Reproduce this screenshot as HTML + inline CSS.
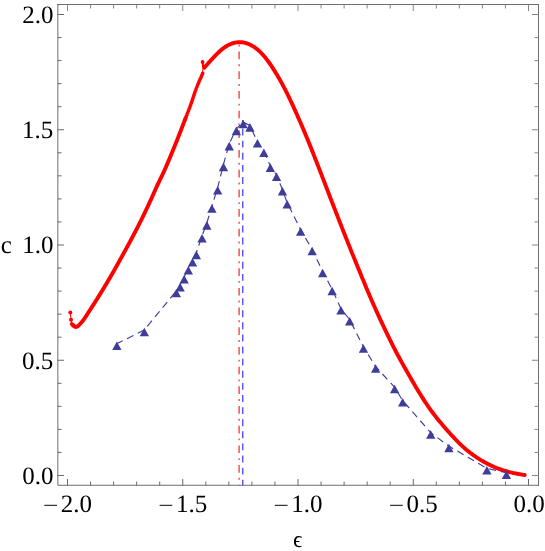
<!DOCTYPE html>
<html><head><meta charset="utf-8"><title>plot</title>
<style>html,body{margin:0;padding:0;background:#fff;}body{width:545px;height:551px;overflow:hidden;font-family:"Liberation Serif",serif;}svg{display:block;will-change:transform;}text{text-rendering:geometricPrecision;}</style>
</head><body>
<svg width="545" height="551" viewBox="0 0 545 551">
<rect x="0" y="0" width="545" height="551" fill="#fff"/>
<line x1="242.75" y1="119.9" x2="242.75" y2="485.5" stroke="#4444ff" stroke-width="1.3" stroke-dasharray="6.9 5.21" stroke-dashoffset="3.4"/>
<line x1="239.1" y1="42" x2="239.1" y2="485.5" stroke="#ff2222" stroke-width="1.2" stroke-dasharray="7.7 5.04 1.9 5.05" stroke-dashoffset="10.09"/>
<path d="M73.60 325.30L74.01 325.98L74.64 326.56L75.39 326.92L76.19 326.98L76.97 326.72L77.68 326.27L78.32 325.76L78.91 325.20L79.48 324.62L80.03 324.03L80.59 323.43L81.13 322.82L81.67 322.20L82.19 321.58L82.69 320.94L83.19 320.29L83.68 319.64L84.15 318.98L84.62 318.31L85.08 317.64L85.54 316.96L85.99 316.28L86.43 315.59L86.87 314.91L87.31 314.22L87.75 313.53L88.18 312.83L88.62 312.14L89.05 311.45L89.59 310.63L90.12 309.82L90.65 309.00L91.18 308.18L91.71 307.36L92.24 306.54L92.77 305.72L93.30 304.91L93.82 304.09L94.35 303.27L94.87 302.45L95.39 301.63L95.91 300.81L96.42 300.00L96.94 299.18L97.45 298.36L97.96 297.54L98.46 296.72L98.97 295.90L99.47 295.08L99.98 294.27L100.48 293.45L100.98 292.63L101.48 291.81L101.98 290.99L102.48 290.17L102.98 289.36L103.47 288.54L103.97 287.72L104.46 286.90L104.96 286.08L105.45 285.26L105.95 284.45L106.44 283.63L106.93 282.81L107.42 281.99L107.91 281.17L108.39 280.35L108.88 279.54L109.36 278.72L109.84 277.90L110.32 277.08L110.80 276.26L111.27 275.44L111.74 274.63L112.21 273.81L112.68 272.99L113.15 272.17L113.61 271.35L114.08 270.53L114.54 269.71L115.00 268.90L115.45 268.08L115.91 267.26L116.37 266.44L116.82 265.62L117.28 264.80L117.74 263.99L118.19 263.17L118.65 262.35L119.10 261.53L119.56 260.71L120.01 259.89L120.47 259.08L120.92 258.26L121.37 257.44L121.82 256.62L122.28 255.80L122.73 254.98L123.18 254.17L123.63 253.35L124.07 252.53L124.52 251.71L124.97 250.89L125.42 250.07L125.87 249.25L126.31 248.44L126.76 247.62L127.21 246.80L127.65 245.98L128.10 245.16L128.54 244.34L128.99 243.53L129.43 242.71L129.87 241.89L130.31 241.07L130.75 240.25L131.19 239.43L131.63 238.62L132.06 237.80L132.50 236.98L132.93 236.16L133.36 235.34L133.79 234.52L134.22 233.71L134.65 232.89L135.07 232.07L135.50 231.25L135.92 230.43L136.35 229.61L136.77 228.79L137.19 227.98L137.61 227.16L138.03 226.34L138.45 225.52L138.87 224.70L139.29 223.88L139.70 223.07L140.11 222.25L140.52 221.43L140.93 220.61L141.34 219.79L141.74 218.97L142.15 218.16L142.55 217.34L142.94 216.52L143.34 215.70L143.73 214.88L144.13 214.06L144.52 213.25L144.91 212.43L145.30 211.61L145.69 210.79L146.07 209.97L146.46 209.15L146.85 208.34L147.23 207.52L147.61 206.70L148.00 205.88L148.38 205.06L148.76 204.24L149.14 203.42L149.52 202.61L149.89 201.79L150.27 200.97L150.65 200.15L151.02 199.33L151.39 198.51L151.76 197.70L152.13 196.88L152.50 196.06L152.87 195.24L153.23 194.42L153.60 193.60L153.96 192.79L154.33 191.97L154.69 191.15L155.06 190.33L155.42 189.51L155.79 188.69L156.17 187.88L156.54 187.06L156.92 186.24L157.30 185.42L157.68 184.60L158.07 183.78L158.46 182.96L158.85 182.15L159.24 181.33L159.63 180.51L160.03 179.69L160.42 178.87L160.82 178.05L161.21 177.24L161.61 176.42L162.00 175.60L162.39 174.78L162.77 173.96L163.16 173.14L163.54 172.33L163.92 171.51L164.29 170.69L164.66 169.87L165.03 169.05L165.39 168.23L165.75 167.42L166.11 166.60L166.47 165.78L166.82 164.96L167.17 164.14L167.52 163.32L167.87 162.51L168.21 161.69L168.56 160.87L168.90 160.05L169.24 159.23L169.59 158.41L169.93 157.59L170.27 156.78L170.61 155.96L170.95 155.14L171.29 154.32L171.63 153.50L171.97 152.68L172.31 151.87L172.64 151.05L172.98 150.23L173.31 149.41L173.65 148.59L173.98 147.77L174.32 146.96L174.65 146.14L174.98 145.32L175.31 144.50L175.64 143.68L175.97 142.86L176.30 142.05L176.63 141.23L176.96 140.41L177.28 139.59L177.61 138.77L177.94 137.95L178.26 137.13L178.58 136.32L178.91 135.50L179.23 134.68L179.55 133.86L179.87 133.04L180.18 132.22L180.50 131.41L180.82 130.59L181.13 129.77L181.44 128.95L181.76 128.13L182.07 127.31L182.38 126.50L182.69 125.68L183.00 124.86L183.31 124.04L183.62 123.22L183.94 122.40L184.25 121.59L184.57 120.77L184.88 119.95L185.20 119.13L185.52 118.31" fill="none" stroke="#ff0000" stroke-width="3.9" stroke-linecap="round" stroke-linejoin="round"/>
<path d="M202.70 73.30L202.36 74.12L202.02 74.94L201.66 75.76L201.30 76.57L200.93 77.39L200.56 78.21L200.18 79.03L199.81 79.85L199.45 80.67L199.09 81.48L198.74 82.30L198.40 83.12L198.06 83.94L197.73 84.76L197.41 85.58L197.09 86.39L196.78 87.21L196.47 88.03L196.17 88.85L195.87 89.67L195.58 90.49L195.29 91.30L195.00 92.12L194.72 92.94L194.44 93.76L194.16 94.58L193.89 95.40L193.61 96.22L193.34 97.03L193.07 97.85L192.80 98.67L192.52 99.49L192.25 100.31L191.97 101.13L191.69 101.94L191.40 102.76L191.12 103.58L190.82 104.40L190.53 105.22L190.23 106.04L189.93 106.85L189.62 107.67L189.32 108.49L189.00 109.31L188.69 110.13L188.38 110.95L188.06 111.76L187.75 112.58L187.43 113.40L187.11 114.22L186.79 115.04L186.47 115.86L186.15 116.67L185.83 117.49L185.52 118.31L185.20 119.13L184.88 119.95" fill="none" stroke="#ff0000" stroke-width="3.75" stroke-linecap="round" stroke-linejoin="round" stroke-dasharray="0 2.1"/>
<path d="M204.20 67.73L205.00 67.01L205.81 66.04L206.61 65.10L207.41 64.19L208.22 63.28L209.02 62.39L209.82 61.51L210.63 60.63L211.43 59.76L212.23 58.89L213.04 58.02L213.84 57.16L214.64 56.31L215.45 55.47L216.25 54.63L217.05 53.82L217.86 53.02L218.66 52.24L219.46 51.49L220.27 50.76L221.07 50.06L221.87 49.39L222.67 48.75L223.48 48.14L224.28 47.56L225.08 47.01L225.89 46.49L226.69 46.01L227.49 45.55L228.30 45.12L229.10 44.72L229.90 44.35L230.71 44.01L231.51 43.70L232.31 43.42L233.12 43.16L233.92 42.94L234.72 42.74L235.53 42.57L236.33 42.43L237.13 42.32L237.94 42.24L238.74 42.19L239.54 42.17L240.35 42.18L241.15 42.22L241.95 42.30L242.76 42.40L243.56 42.53L244.36 42.69L245.17 42.89L245.97 43.11L246.77 43.36L247.58 43.64L248.38 43.95L249.18 44.29L249.99 44.65L250.79 45.05L251.59 45.47L252.40 45.93L253.20 46.41L254.00 46.92L254.81 47.47L255.61 48.05L256.41 48.66L257.22 49.30L258.02 49.98L258.82 50.69L259.62 51.43L260.43 52.21L261.23 53.02L262.03 53.87L262.84 54.74L263.64 55.65L264.44 56.59L265.25 57.56L266.05 58.56L266.85 59.59L267.66 60.65L268.46 61.74L269.26 62.86L270.07 64.00L270.87 65.17L271.67 66.37L272.48 67.58L273.28 68.82L274.08 70.08L274.89 71.36L275.69 72.66L276.49 73.98L277.30 75.32L278.10 76.68L278.90 78.07L279.71 79.47L280.51 80.90L281.31 82.35L282.12 83.83L282.92 85.32L283.72 86.84L284.53 88.38L285.33 89.94L286.13 91.53L286.94 93.13L287.74 94.76L288.54 96.40L289.35 98.07L290.15 99.75L290.95 101.46L291.76 103.17L292.56 104.90L293.36 106.65L294.16 108.40L294.97 110.17L295.77 111.95L296.57 113.73L297.38 115.53L298.18 117.34L298.98 119.16L299.79 121.00L300.59 122.84L301.39 124.70L302.20 126.58L303.00 128.47L303.80 130.37L304.61 132.29L305.41 134.22L306.21 136.17L307.02 138.12L307.82 140.09L308.62 142.07L309.43 144.05L310.23 146.05L311.03 148.05L311.84 150.06L312.64 152.08L313.44 154.11L314.25 156.14L315.05 158.17L315.85 160.21L316.66 162.26L317.46 164.31L318.26 166.37L319.07 168.44L319.87 170.51L320.67 172.58L321.48 174.66L322.28 176.75L323.08 178.83L323.89 180.92L324.69 183.02L325.49 185.11L326.30 187.21L327.10 189.30L327.90 191.40L328.71 193.50L329.51 195.59L330.31 197.68L331.11 199.77L331.92 201.86L332.72 203.94L333.52 206.02L334.33 208.09L335.13 210.16L335.93 212.23L336.74 214.29L337.54 216.35L338.34 218.40L339.15 220.45L339.95 222.50L340.75 224.55L341.56 226.60L342.36 228.64L343.16 230.68L343.97 232.72L344.77 234.75L345.57 236.79L346.38 238.82L347.18 240.84L347.98 242.86L348.79 244.88L349.59 246.89L350.39 248.90L351.20 250.90L352.00 252.89L352.80 254.88L353.61 256.87L354.41 258.84L355.21 260.82L356.02 262.78L356.82 264.75L357.62 266.70L358.43 268.66L359.23 270.61L360.03 272.56L360.84 274.51L361.64 276.47L362.44 278.42L363.25 280.37L364.05 282.32L364.85 284.26L365.65 286.20L366.46 288.13L367.26 290.05L368.06 291.95L368.87 293.84L369.67 295.72L370.47 297.59L371.28 299.44L372.08 301.29L372.88 303.11L373.69 304.93L374.49 306.74L375.29 308.54L376.10 310.33L376.90 312.11L377.70 313.88L378.51 315.64L379.31 317.39L380.11 319.13L380.92 320.86L381.72 322.58L382.52 324.30L383.33 326.00L384.13 327.70L384.93 329.39L385.74 331.07L386.54 332.74L387.34 334.40L388.15 336.06L388.95 337.71L389.75 339.35L390.56 340.97L391.36 342.59L392.16 344.20L392.97 345.79L393.77 347.37L394.57 348.94L395.38 350.49L396.18 352.03L396.98 353.54L397.79 355.05L398.59 356.54L399.39 358.01L400.19 359.48L401.00 360.93L401.80 362.38L402.60 363.83L403.41 365.26L404.21 366.70L405.01 368.13L405.82 369.56L406.62 370.99L407.42 372.41L408.23 373.83L409.03 375.24L409.83 376.65L410.64 378.05L411.44 379.45L412.24 380.84L413.05 382.22L413.85 383.60L414.65 384.97L415.46 386.33L416.26 387.69L417.06 389.03L417.87 390.36L418.67 391.68L419.47 392.99L420.28 394.29L421.08 395.57L421.88 396.84L422.69 398.10L423.49 399.35L424.29 400.58L425.10 401.81L425.90 403.02L426.70 404.22L427.51 405.41L428.31 406.58L429.11 407.74L429.92 408.89L430.72 410.02L431.52 411.13L432.33 412.22L433.13 413.29L433.93 414.35L434.74 415.39L435.54 416.42L436.34 417.43L437.14 418.44L437.95 419.43L438.75 420.42L439.55 421.39L440.36 422.36L441.16 423.33L441.96 424.28L442.77 425.23L443.57 426.17L444.37 427.11L445.18 428.03L445.98 428.95L446.78 429.87L447.59 430.77L448.39 431.67L449.19 432.57L450.00 433.45L450.80 434.33L451.60 435.21L452.41 436.08L453.21 436.94L454.01 437.80L454.82 438.66L455.62 439.51L456.42 440.35L457.23 441.18L458.03 442.00L458.83 442.81L459.64 443.60L460.44 444.38L461.24 445.15L462.05 445.91L462.85 446.64L463.65 447.37L464.46 448.08L465.26 448.78L466.06 449.46L466.87 450.13L467.67 450.79L468.47 451.44L469.28 452.07L470.08 452.69L470.88 453.31L471.68 453.91L472.49 454.50L473.29 455.08L474.09 455.65L474.90 456.21L475.70 456.76L476.50 457.30L477.31 457.83L478.11 458.34L478.91 458.85L479.72 459.35L480.52 459.84L481.32 460.33L482.13 460.80L482.93 461.27L483.73 461.72L484.54 462.18L485.34 462.62L486.14 463.05L486.95 463.48L487.75 463.90L488.55 464.31L489.36 464.71L490.16 465.11L490.96 465.49L491.77 465.87L492.57 466.23L493.37 466.59L494.18 466.94L494.98 467.28L495.78 467.62L496.59 467.94L497.39 468.26L498.19 468.56L499.00 468.86L499.80 469.15L500.60 469.44L501.41 469.71L502.21 469.98L503.01 470.24L503.82 470.50L504.62 470.74L505.42 470.98L506.23 471.22L507.03 471.44L507.83 471.66L508.63 471.88L509.44 472.08L510.24 472.28L511.04 472.48L511.85 472.67L512.65 472.85L513.45 473.03L514.26 473.20L515.06 473.37L515.86 473.53L516.67 473.69L517.47 473.85L518.27 474.00L519.08 474.14L519.88 474.28L520.68 474.42L521.49 474.55L522.29 474.68L523.09 474.81L523.90 474.93L524.70 475.05" fill="none" stroke="#ff0000" stroke-width="3.9" stroke-linecap="round" stroke-linejoin="round"/>
<path d="M70.3 312.6L71 319.8L71.7 323.9L75.2 326.8" fill="none" stroke="#ff0000" stroke-width="1"/>
<circle cx="70.3" cy="312.6" r="2.0" fill="#ff0000"/>
<circle cx="71" cy="319.8" r="2.0" fill="#ff0000"/>
<circle cx="71.8" cy="323.9" r="2.0" fill="#ff0000"/>
<circle cx="73" cy="325.6" r="2.0" fill="#ff0000"/>
<path d="M202.3 73.6L203.2 67.7" fill="none" stroke="#ff0000" stroke-width="1"/>
<path d="M202.6 62L203.3 67.7" fill="none" stroke="#ff0000" stroke-width="2.2"/>
<circle cx="202.6" cy="61.9" r="1.9" fill="#ff0000"/>
<polyline points="116.70,343.80 144.20,330.10 176.20,291.10 180.00,285.20 184.00,277.30 188.20,268.30 192.40,260.30 196.20,253.00 201.90,236.30 206.70,223.50 211.75,206.55 217.50,188.30 223.30,165.00 229.10,144.20 236.20,129.00 243.00,122.10 249.80,125.50 257.30,141.40 263.70,150.80 270.20,165.70 276.40,174.80 282.30,189.30 287.00,202.30 300.50,229.55 312.00,249.05 322.50,271.05 332.00,289.05 340.80,308.40 349.50,319.40 363.30,346.55 375.50,366.55 394.50,387.05 402.50,400.30 430.60,432.60 448.75,446.05 486.75,468.30 506.25,472.80" fill="none" stroke="#3f3d99" stroke-width="1.15" stroke-dasharray="7.25 4.825" stroke-dashoffset="0.6"/>
<path d="M112.20 350.00L121.50 350.00L116.85 341.40Z" fill="#3f3d99"/>
<path d="M139.70 336.30L149.00 336.30L144.35 327.70Z" fill="#3f3d99"/>
<path d="M171.70 297.30L181.00 297.30L176.35 288.70Z" fill="#3f3d99"/>
<path d="M175.50 291.40L184.80 291.40L180.15 282.80Z" fill="#3f3d99"/>
<path d="M179.50 283.50L188.80 283.50L184.15 274.90Z" fill="#3f3d99"/>
<path d="M183.70 274.50L193.00 274.50L188.35 265.90Z" fill="#3f3d99"/>
<path d="M187.90 266.50L197.20 266.50L192.55 257.90Z" fill="#3f3d99"/>
<path d="M191.70 259.20L201.00 259.20L196.35 250.60Z" fill="#3f3d99"/>
<path d="M197.40 242.50L206.70 242.50L202.05 233.90Z" fill="#3f3d99"/>
<path d="M202.20 229.70L211.50 229.70L206.85 221.10Z" fill="#3f3d99"/>
<path d="M207.25 212.75L216.55 212.75L211.90 204.15Z" fill="#3f3d99"/>
<path d="M213.00 194.50L222.30 194.50L217.65 185.90Z" fill="#3f3d99"/>
<path d="M218.80 171.20L228.10 171.20L223.45 162.60Z" fill="#3f3d99"/>
<path d="M224.60 150.40L233.90 150.40L229.25 141.80Z" fill="#3f3d99"/>
<path d="M231.70 135.20L241.00 135.20L236.35 126.60Z" fill="#3f3d99"/>
<path d="M238.50 128.30L247.80 128.30L243.15 119.70Z" fill="#3f3d99"/>
<path d="M245.30 131.70L254.60 131.70L249.95 123.10Z" fill="#3f3d99"/>
<path d="M252.80 147.60L262.10 147.60L257.45 139.00Z" fill="#3f3d99"/>
<path d="M259.20 157.00L268.50 157.00L263.85 148.40Z" fill="#3f3d99"/>
<path d="M265.70 171.90L275.00 171.90L270.35 163.30Z" fill="#3f3d99"/>
<path d="M271.90 181.00L281.20 181.00L276.55 172.40Z" fill="#3f3d99"/>
<path d="M277.80 195.50L287.10 195.50L282.45 186.90Z" fill="#3f3d99"/>
<path d="M282.50 208.50L291.80 208.50L287.15 199.90Z" fill="#3f3d99"/>
<path d="M296.00 235.75L305.30 235.75L300.65 227.15Z" fill="#3f3d99"/>
<path d="M307.50 255.25L316.80 255.25L312.15 246.65Z" fill="#3f3d99"/>
<path d="M318.00 277.25L327.30 277.25L322.65 268.65Z" fill="#3f3d99"/>
<path d="M327.50 295.25L336.80 295.25L332.15 286.65Z" fill="#3f3d99"/>
<path d="M336.30 314.60L345.60 314.60L340.95 306.00Z" fill="#3f3d99"/>
<path d="M345.00 325.60L354.30 325.60L349.65 317.00Z" fill="#3f3d99"/>
<path d="M358.80 352.75L368.10 352.75L363.45 344.15Z" fill="#3f3d99"/>
<path d="M371.00 372.75L380.30 372.75L375.65 364.15Z" fill="#3f3d99"/>
<path d="M390.00 393.25L399.30 393.25L394.65 384.65Z" fill="#3f3d99"/>
<path d="M398.00 406.50L407.30 406.50L402.65 397.90Z" fill="#3f3d99"/>
<path d="M426.10 438.80L435.40 438.80L430.75 430.20Z" fill="#3f3d99"/>
<path d="M444.25 452.25L453.55 452.25L448.90 443.65Z" fill="#3f3d99"/>
<path d="M482.25 474.50L491.55 474.50L486.90 465.90Z" fill="#3f3d99"/>
<path d="M501.75 479.00L511.05 479.00L506.40 470.40Z" fill="#3f3d99"/>
<path d="M57.85 4.0V485.25M57.85 485.25H539.0M538.5 485.75V4.0M539.0 4.5H57.0" fill="none" stroke="#6e6e6e" stroke-width="1"/>
<path d="M67.50 485.5V479.00M57.5 475.50H64.00M90.55 485.5V481.50M57.5 452.45H61.50M113.60 485.5V481.50M57.5 429.40H61.50M136.65 485.5V481.50M57.5 406.35H61.50M159.70 485.5V481.50M57.5 383.30H61.50M182.75 485.5V479.00M57.5 360.25H64.00M205.80 485.5V481.50M57.5 337.20H61.50M228.85 485.5V481.50M57.5 314.15H61.50M251.90 485.5V481.50M57.5 291.10H61.50M274.95 485.5V481.50M57.5 268.05H61.50M298.00 485.5V479.00M57.5 245.00H64.00M321.05 485.5V481.50M57.5 221.95H61.50M344.10 485.5V481.50M57.5 198.90H61.50M367.15 485.5V481.50M57.5 175.85H61.50M390.20 485.5V481.50M57.5 152.80H61.50M413.25 485.5V479.00M57.5 129.75H64.00M436.30 485.5V481.50M57.5 106.70H61.50M459.35 485.5V481.50M57.5 83.65H61.50M482.40 485.5V481.50M57.5 60.60H61.50M505.45 485.5V481.50M57.5 37.55H61.50M528.50 485.5V479.00M57.5 14.50H64.00" fill="none" stroke="#6a6a6a" stroke-width="1"/>
<path d="M67.50 4.5V11.00M538.5 475.50H532.00M90.55 4.5V8.50M538.5 452.45H534.50M113.60 4.5V8.50M538.5 429.40H534.50M136.65 4.5V8.50M538.5 406.35H534.50M159.70 4.5V8.50M538.5 383.30H534.50M182.75 4.5V11.00M538.5 360.25H532.00M205.80 4.5V8.50M538.5 337.20H534.50M228.85 4.5V8.50M538.5 314.15H534.50M251.90 4.5V8.50M538.5 291.10H534.50M274.95 4.5V8.50M538.5 268.05H534.50M298.00 4.5V11.00M538.5 245.00H532.00M321.05 4.5V8.50M538.5 221.95H534.50M344.10 4.5V8.50M538.5 198.90H534.50M367.15 4.5V8.50M538.5 175.85H534.50M390.20 4.5V8.50M538.5 152.80H534.50M413.25 4.5V11.00M538.5 129.75H532.00M436.30 4.5V8.50M538.5 106.70H534.50M459.35 4.5V8.50M538.5 83.65H534.50M482.40 4.5V8.50M538.5 60.60H534.50M505.45 4.5V8.50M538.5 37.55H534.50M528.50 4.5V11.00M538.5 14.50H532.00" fill="none" stroke="#868686" stroke-width="1"/>
<g font-family="'Liberation Serif', serif" font-size="25px" fill="#000">
<text x="53.6" y="483.95" text-anchor="end">0.0</text>
<text x="53.2" y="368.70" text-anchor="end">0.5</text>
<text x="53.6" y="253.45" text-anchor="end">1.0</text>
<text x="53.2" y="138.20" text-anchor="end">1.5</text>
<text x="53.6" y="22.95" text-anchor="end">2.0</text>
<text x="92.00" y="512" text-anchor="end">2.0</text>
<text transform="translate(43.03 512.3) scale(1.092 0.806)">&#x2212;</text>
<text x="207.25" y="512" text-anchor="end">1.5</text>
<text transform="translate(158.28 512.3) scale(1.092 0.806)">&#x2212;</text>
<text x="322.50" y="512" text-anchor="end">1.0</text>
<text transform="translate(273.53 512.3) scale(1.092 0.806)">&#x2212;</text>
<text x="437.75" y="512" text-anchor="end">0.5</text>
<text transform="translate(388.78 512.3) scale(1.092 0.806)">&#x2212;</text>
<text x="513.50" y="512">0.0</text>
<text x="0.8" y="253.3">c</text>
<text x="297.8" y="546.5" text-anchor="middle" font-size="23.2px">&#x3F5;</text>
</g>
</svg>
</body></html>
